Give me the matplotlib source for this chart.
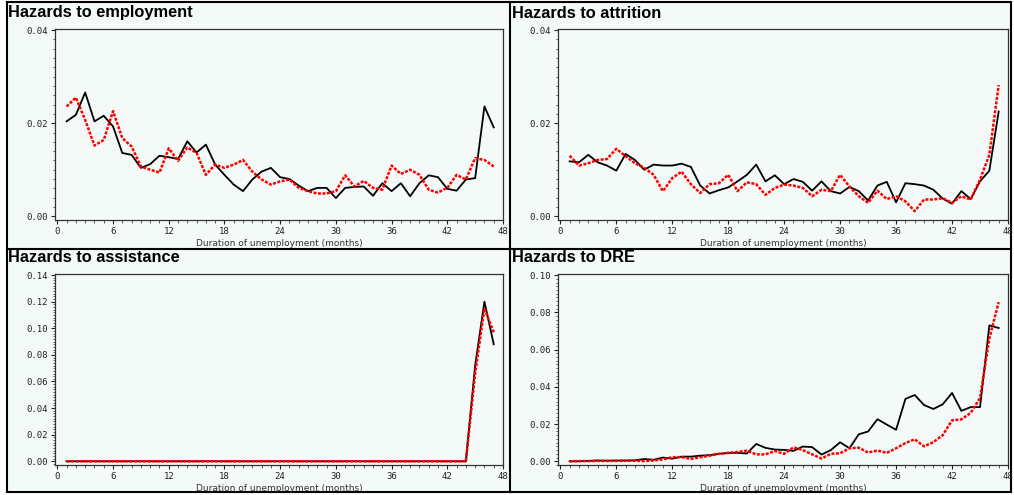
import matplotlib
matplotlib.use("Agg")
import matplotlib.pyplot as plt
from matplotlib.patches import Rectangle
from matplotlib.lines import Line2D
from matplotlib.ticker import MultipleLocator, FormatStrFormatter
import numpy as np

months = np.arange(1, 48)

emp_black = [0.0204, 0.0218, 0.0266, 0.0204, 0.0216, 0.0193, 0.0136, 0.0132, 0.0104, 0.0112,
             0.0130, 0.0127, 0.0123, 0.0161, 0.0137, 0.0154, 0.0111, 0.0089, 0.0068, 0.0054,
             0.0079, 0.0096, 0.0104, 0.0084, 0.0080, 0.0066, 0.0054, 0.0061, 0.0061, 0.0039,
             0.0061, 0.0063, 0.0064, 0.0044, 0.0071, 0.0054, 0.0071, 0.0043, 0.0071, 0.0088,
             0.0084, 0.0059, 0.0055, 0.0079, 0.0082, 0.0236, 0.0191]
emp_red = [0.0236, 0.0255, 0.0207, 0.0152, 0.0164, 0.0226, 0.0168, 0.0150, 0.0107, 0.0100,
           0.0094, 0.0146, 0.0119, 0.0148, 0.0136, 0.0089, 0.0111, 0.0104, 0.0111, 0.0121,
           0.0096, 0.0079, 0.0068, 0.0075, 0.0079, 0.0061, 0.0054, 0.0049, 0.0049, 0.0054,
           0.0088, 0.0064, 0.0076, 0.0061, 0.0057, 0.0109, 0.0091, 0.0100, 0.0089, 0.0057,
           0.0051, 0.0061, 0.0089, 0.0079, 0.0125, 0.0121, 0.0107]

att_black = [0.0118, 0.0116, 0.0132, 0.0116, 0.0109, 0.0098, 0.0134, 0.0121, 0.0100, 0.0111,
             0.0109, 0.0109, 0.0113, 0.0106, 0.0066, 0.0049, 0.0056, 0.0062, 0.0075, 0.0089,
             0.0111, 0.0075, 0.0088, 0.0069, 0.0080, 0.0074, 0.0055, 0.0075, 0.0054, 0.0049,
             0.0063, 0.0054, 0.0034, 0.0066, 0.0074, 0.0030, 0.0071, 0.0069, 0.0066, 0.0057,
             0.0038, 0.0027, 0.0054, 0.0037, 0.0075, 0.0098, 0.0225]
att_red = [0.0130, 0.0109, 0.0114, 0.0121, 0.0123, 0.0145, 0.0129, 0.0114, 0.0104, 0.0089,
           0.0054, 0.0082, 0.0096, 0.0069, 0.0050, 0.0069, 0.0071, 0.0089, 0.0054, 0.0073,
           0.0069, 0.0046, 0.0061, 0.0068, 0.0066, 0.0061, 0.0043, 0.0057, 0.0054, 0.0089,
           0.0064, 0.0043, 0.0029, 0.0055, 0.0037, 0.0043, 0.0032, 0.0011, 0.0036, 0.0036,
           0.0039, 0.0029, 0.0043, 0.0036, 0.0079, 0.0132, 0.0282]

ass_black = [0.0] * 44 + [0.072, 0.120, 0.088]
ass_red = [0.0] * 44 + [0.066, 0.115, 0.097]

dre_black = [0.0000, 0.0000, 0.0002, 0.0004, 0.0003, 0.0004, 0.0004, 0.0005, 0.0012, 0.0008,
             0.0020, 0.0014, 0.0025, 0.0025, 0.0030, 0.0033, 0.0040, 0.0045, 0.0045, 0.0042,
             0.0093, 0.0072, 0.0063, 0.0061, 0.0056, 0.0079, 0.0076, 0.0036, 0.0060, 0.0102,
             0.0070, 0.0145, 0.0160, 0.0226, 0.0197, 0.0169, 0.0335, 0.0356, 0.0302, 0.0281,
             0.0306, 0.0367, 0.0271, 0.0291, 0.0291, 0.0730, 0.0716]
dre_red = [0.0000, 0.0001, 0.0001, 0.0002, 0.0002, 0.0002, 0.0003, 0.0003, 0.0001, 0.0005,
           0.0010, 0.0022, 0.0022, 0.0013, 0.0022, 0.0030, 0.0040, 0.0045, 0.0050, 0.0057,
           0.0037, 0.0037, 0.0055, 0.0040, 0.0075, 0.0060, 0.0037, 0.0015, 0.0040, 0.0043,
           0.0070, 0.0073, 0.0047, 0.0058, 0.0045, 0.0070, 0.0098, 0.0118, 0.0080, 0.0103,
           0.0140, 0.0220, 0.0225, 0.0260, 0.0340, 0.0660, 0.0855]

titles = ["Hazards to employment", "Hazards to attrition",
          "Hazards to assistance", "Hazards to DRE"]
ytops = [0.04, 0.04, 0.14, 0.10]
ysteps = [0.02, 0.02, 0.02, 0.02]
series = [(emp_black, emp_red), (att_black, att_red),
          (ass_black, ass_red), (dre_black, dre_red)]

W, H = 1014, 495
bg = "#f4faf7"
fig = plt.figure(figsize=(W / 100, H / 100), dpi=100, facecolor="white")

# outer frame and panel dividers (pixel coords -> figure fraction)
fig.patches.append(Rectangle((7 / W, 1 - 492 / H), (1011 - 7) / W, (492 - 2) / H,
                             transform=fig.transFigure, facecolor=bg,
                             edgecolor="black", lw=1.5, zorder=-10))
fig.lines.append(Line2D([510 / W, 510 / W], [1 - 2 / H, 1 - 492 / H],
                        transform=fig.transFigure, color="black", lw=1.5, zorder=-5))
fig.lines.append(Line2D([7 / W, 1011 / W], [1 - 249 / H, 1 - 249 / H],
                        transform=fig.transFigure, color="black", lw=1.5, zorder=-5))

# axes boxes in pixels: left, top, right, bottom
boxes = [(55, 29, 503, 220), (558, 29, 1008, 220),
         (55, 274, 503, 465), (558, 274, 1008, 465)]
title_pos = [(8, 13), (512, 13), (8, 258), (512, 258)]

for i, (l, t, r, b) in enumerate(boxes):
    ax = fig.add_axes([l / W, 1 - b / H, (r - l) / W, (b - t) / H])
    ax.set_zorder(2)
    ax.set_facecolor(bg)
    black, red = series[i]
    ax.plot(months, black, color="black", lw=1.3, zorder=3)
    ax.plot(months, red, color="#ff0000", lw=1.8, ls=(0, (1.2, 0.6)), zorder=4)
    top = ytops[i]
    pad = top * 0.02
    ax.set_xlim(-0.25, 48)
    ax.set_ylim(-pad, top + pad * 0.3)
    ax.xaxis.set_major_locator(MultipleLocator(6))
    ax.xaxis.set_minor_locator(MultipleLocator(1))
    ax.yaxis.set_major_locator(MultipleLocator(ysteps[i]))
    ax.yaxis.set_minor_locator(MultipleLocator(ysteps[i] / 10))
    ax.yaxis.set_major_formatter(FormatStrFormatter("%.2f"))
    ax.tick_params(which="major", direction="out", length=3, width=0.8,
                   labelsize=6.5, pad=2, colors="#222222")
    ax.tick_params(which="minor", direction="out", length=1.8, width=0.6, colors="#444444")
    for lab in ax.get_xticklabels() + ax.get_yticklabels():
        lab.set_family("DejaVu Sans Mono")
    for s in ax.spines.values():
        s.set_color("#333333")
        s.set_linewidth(0.9)
    ax.set_xlabel("Duration of unemployment (months)", fontsize=6.5,
                  color="#333333", labelpad=2)
    tx, ty = title_pos[i]
    fig.text(tx / W, 1 - ty / H, titles[i], fontsize=11.8, fontweight="bold",
             family="Liberation Sans", va="center", ha="left", zorder=5)

fig.savefig("out.png", dpi=100, facecolor=fig.get_facecolor())
